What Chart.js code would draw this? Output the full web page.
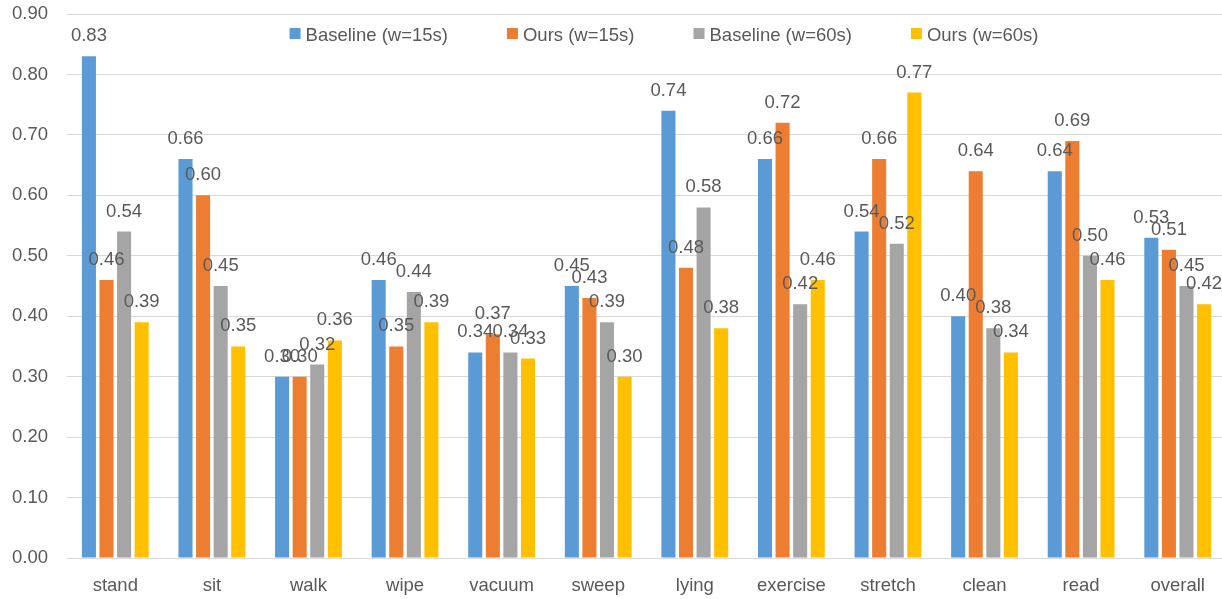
<!DOCTYPE html>
<html>
<head>
<meta charset="utf-8">
<title>Per-activity scores</title>
<script src="https://cdn.jsdelivr.net/npm/chart.js@4.4.1/dist/chart.umd.min.js"></script>
<style>
  html, body { margin: 0; padding: 0; background: #ffffff; overflow: hidden; }
  #wrap { position: relative; width: 1227px; height: 599px; }
</style>
</head>
<body>
<div id="wrap"><canvas id="chart"></canvas></div>
<script>
// Activity categories on the x axis
const categories = ['stand', 'sit', 'walk', 'wipe', 'vacuum', 'sweep', 'lying', 'exercise', 'stretch', 'clean', 'read', 'overall'];

// Scores per series
const baselineW15 = [0.83, 0.66, 0.30, 0.46, 0.34, 0.45, 0.74, 0.66, 0.54, 0.40, 0.64, 0.53];
const oursW15     = [0.46, 0.60, 0.30, 0.35, 0.37, 0.43, 0.48, 0.72, 0.66, 0.64, 0.69, 0.51];
const baselineW60 = [0.54, 0.45, 0.32, 0.44, 0.34, 0.39, 0.58, 0.42, 0.52, 0.38, 0.50, 0.45];
const oursW60     = [0.39, 0.35, 0.36, 0.39, 0.33, 0.30, 0.38, 0.46, 0.77, 0.34, 0.46, 0.42];

// Series names and y-axis range
const seriesNames = ['Baseline (w=15s)', 'Ours (w=15s)', 'Baseline (w=60s)', 'Ours (w=60s)'];
const yMin = 0, yMax = 0.9, yStep = 0.1;

const FONT = '"Liberation Sans", Arial, sans-serif';
const FONT_SIZE = 18.5;
const TEXT = '#595959';
const colors = ['#5B9BD5', '#ED7D31', '#A5A5A5', '#FFC000'];

// Value labels printed above each bar
const valueLabels = {
  id: 'valueLabels',
  afterDatasetsDraw(chart) {
    const ctx = chart.ctx;
    ctx.save();
    ctx.font = FONT_SIZE + 'px ' + FONT;
    ctx.fillStyle = TEXT;
    ctx.textAlign = 'center';
    ctx.textBaseline = 'alphabetic';
    chart.data.datasets.forEach((ds, i) => {
      const meta = chart.getDatasetMeta(i);
      meta.data.forEach((bar, j) => {
        ctx.fillText(ds.data[j].toFixed(2), bar.x, bar.y - 15);
      });
    });
    ctx.restore();
  }
};

// Legend row drawn inside the plot area, near the top
const seriesKey = {
  id: 'seriesKey',
  afterDraw(chart, args, opts) {
    const ctx = chart.ctx;
    const box = opts.boxSize, textGap = opts.textGap, itemGap = opts.itemGap;
    ctx.save();
    ctx.font = FONT_SIZE + 'px ' + FONT;
    const items = chart.data.datasets.map(ds => ({
      text: ds.label,
      color: ds.backgroundColor,
      w: box + textGap + ctx.measureText(ds.label).width
    }));
    const total = items.reduce((s, it) => s + it.w, 0) + itemGap * (items.length - 1);
    let x = opts.centerX - total / 2;
    ctx.textAlign = 'left';
    ctx.textBaseline = 'alphabetic';
    items.forEach(it => {
      ctx.fillStyle = it.color;
      ctx.fillRect(x, opts.boxTop, box, box);
      ctx.fillStyle = TEXT;
      ctx.fillText(it.text, x + box + textGap, opts.baseline);
      x += it.w + itemGap;
    });
    ctx.restore();
  }
};

const seriesValues = [baselineW15, oursW15, baselineW60, oursW60];

new Chart(document.getElementById('chart'), {
  type: 'bar',
  data: {
    labels: categories,
    datasets: seriesValues.map((vals, i) => ({
      label: seriesNames[i],
      data: vals,
      backgroundColor: colors[i],
      borderWidth: 0,
      categoryPercentage: 0.728,
      barPercentage: 0.8
    }))
  },
  options: {
    responsive: true,
    maintainAspectRatio: false,
    animation: false,
    devicePixelRatio: 1,
    layout: { padding: { top: 14, right: 1, left: 0, bottom: 0 } },
    plugins: {
      legend: { display: false },
      tooltip: { enabled: false },
      seriesKey: { centerX: 664, boxTop: 28, boxSize: 11, textGap: 5, itemGap: 59, baseline: 40.5 }
    },
    scales: {
      x: {
        grid: { display: false, drawTicks: false },
        border: { display: false },
        ticks: { font: { size: FONT_SIZE, family: FONT }, color: TEXT, padding: 17 },
        afterFit(scale) {
          scale.height = 41;
          scale.paddingLeft = 0;
          scale.paddingRight = 0;
        }
      },
      y: {
        min: yMin,
        max: yMax,
        grid: { color: '#D9D9D9', lineWidth: 1, drawTicks: false },
        border: { display: false },
        ticks: {
          stepSize: yStep,
          font: { size: FONT_SIZE, family: FONT },
          color: TEXT,
          padding: 19,
          callback: v => Number(v).toFixed(2)
        },
        afterFit(scale) {
          scale.width = 67;
          scale.paddingTop = 0;
          scale.paddingBottom = 0;
        }
      }
    }
  },
  plugins: [valueLabels, seriesKey]
});
</script>
</body>
</html>
